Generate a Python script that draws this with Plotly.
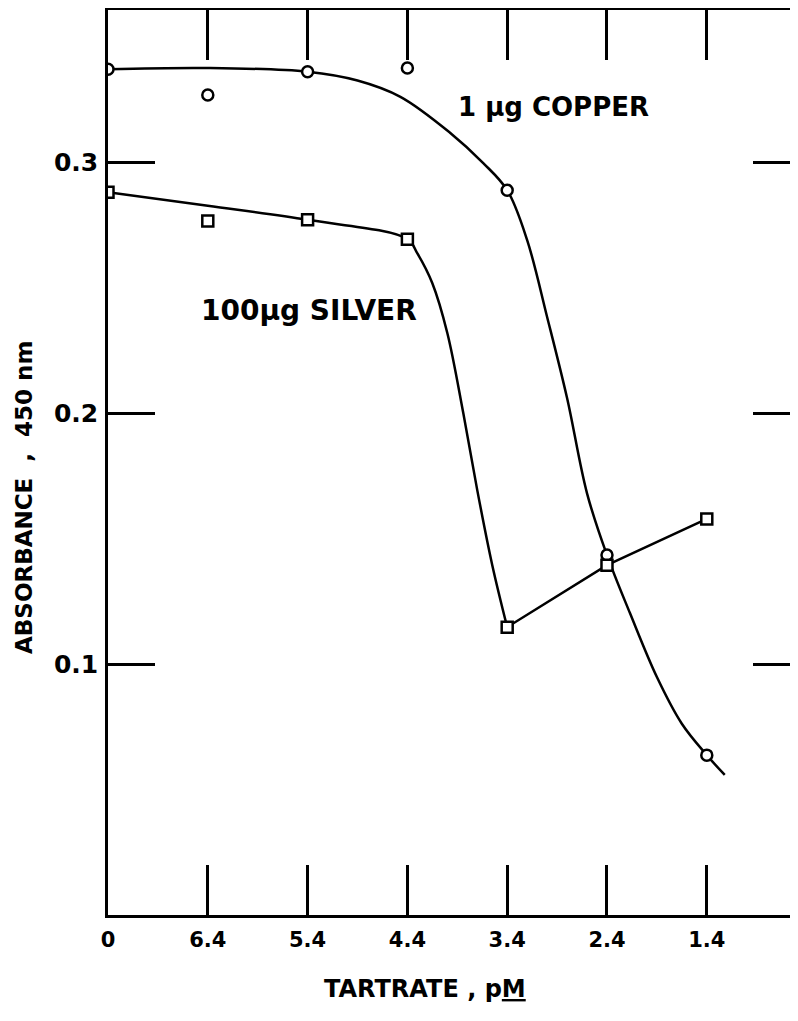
import plotly.graph_objects as go

# tick positions and their pM labels (axis runs from high to low pM)
x_pos = [0, 1, 2, 3, 4, 5, 6]
x_labels = ["0", "6.4", "5.4", "4.4", "3.4", "2.4", "1.4"]

# measured absorbance at each tartrate level
copper_abs = [0.337, 0.3267, 0.336, 0.3375, 0.2888, 0.1434, 0.0637]
silver_abs = [0.288, 0.2765, 0.277, 0.2693, 0.1147, 0.1394, 0.1578]

# hand-drawn smooth curves
copper_curve_x = [0, 1, 2, 2.5, 2.93, 3.43, 3.76, 4.0, 4.2, 4.4, 4.6, 4.8, 5.0,
                  5.23, 5.5, 5.75, 6.0, 6.18]
copper_curve_y = [0.337, 0.3375, 0.336, 0.3325, 0.326, 0.3116, 0.2996, 0.2888, 0.2689,
                  0.2383, 0.206, 0.168, 0.1434, 0.1203, 0.0948, 0.0762, 0.0637, 0.0558]
silver_curve_x = [0, 1, 2, 3, 3.1, 3.25, 3.4, 3.56, 3.7, 3.85, 4.0]
silver_curve_y = [0.288, 0.2826, 0.277, 0.2693, 0.2636, 0.2517, 0.2319, 0.2, 0.1693,
                  0.1395, 0.1147]

y_ticks = [0.1, 0.2, 0.3]
y_tick_labels = ["0.1", "0.2", "0.3"]

FONT = "DejaVu Sans"
LW = 2.5

fig = go.Figure()

fig.add_trace(go.Scatter(x=copper_curve_x, y=copper_curve_y, mode="lines",
                         line=dict(color="black", width=LW, shape="spline", smoothing=1.0),
                         hoverinfo="skip"))
fig.add_trace(go.Scatter(x=silver_curve_x, y=silver_curve_y, mode="lines",
                         line=dict(color="black", width=LW, shape="spline", smoothing=1.0),
                         hoverinfo="skip"))
fig.add_trace(go.Scatter(x=x_pos[4:], y=silver_abs[4:], mode="lines",
                         line=dict(color="black", width=LW),
                         hoverinfo="skip"))

fig.add_trace(go.Scatter(x=x_pos, y=copper_abs, mode="markers", name="1 µg copper",
                         marker=dict(symbol="circle", size=11, color="white",
                                     line=dict(color="black", width=2.5))))
fig.add_trace(go.Scatter(x=x_pos, y=silver_abs, mode="markers", name="100 µg silver",
                         marker=dict(symbol="square", size=11, color="white",
                                     line=dict(color="black", width=2.5))))

# empty trace so the right-hand tick axis gets drawn
fig.add_trace(go.Scatter(x=[], y=[], yaxis="y2", showlegend=False))

fig.add_annotation(x=4.46, y=0.322, text="1 µg COPPER", showarrow=False,
                   font=dict(family=FONT, size=26, color="black", weight="bold"))
fig.add_annotation(x=2.01, y=0.241, text="100µg SILVER", showarrow=False,
                   font=dict(family=FONT, size=28, color="black", weight="bold"))

fig.add_annotation(xref="paper", yref="paper", x=0.4601, y=-0.0818,
                   xanchor="center", yanchor="middle",
                   text="TARTRATE , p<u>M</u>", showarrow=False,
                   font=dict(family=FONT, size=24, color="black", weight="bold"))
fig.add_annotation(xref="paper", yref="paper", x=-0.1225, y=0.4613, textangle=-90,
                   xanchor="center", yanchor="middle",
                   text="ABSORBANCE  ,  450 nm", showarrow=False,
                   font=dict(family=FONT, size=23, color="black", weight="bold"))

# page body adds an 8px margin, so the figure is 8px smaller on each axis
fig.update_layout(
    width=790, height=1005,
    margin=dict(l=100, r=0, t=2, b=98),
    plot_bgcolor="white", paper_bgcolor="white",
    showlegend=False,
    font=dict(family=FONT, size=22, color="black"),
    xaxis=dict(range=[0, 6.914], tickvals=x_pos, ticktext=x_labels,
               showgrid=False, zeroline=False, showline=True, linecolor="black",
               linewidth=LW, mirror="ticks", ticks="inside", ticklen=50,
               tickwidth=LW, tickcolor="black", ticklabelstandoff=4,
               tickfont=dict(size=21, weight="bold")),
    yaxis=dict(range=[0, 0.3606], tickvals=y_ticks, ticktext=y_tick_labels,
               showgrid=False, zeroline=False, showline=True, linecolor="black",
               linewidth=LW, ticks="inside", ticklen=47, tickwidth=LW,
               tickcolor="black", ticklabelstandoff=2,
               tickfont=dict(size=25, weight="bold")),
    yaxis2=dict(range=[0, 0.3606], tickvals=y_ticks, overlaying="y", side="right",
                showgrid=False, zeroline=False, showline=False, showticklabels=False,
                ticks="inside", ticklen=45, tickwidth=LW, tickcolor="black"),
)

fig.write_html("out.html")
